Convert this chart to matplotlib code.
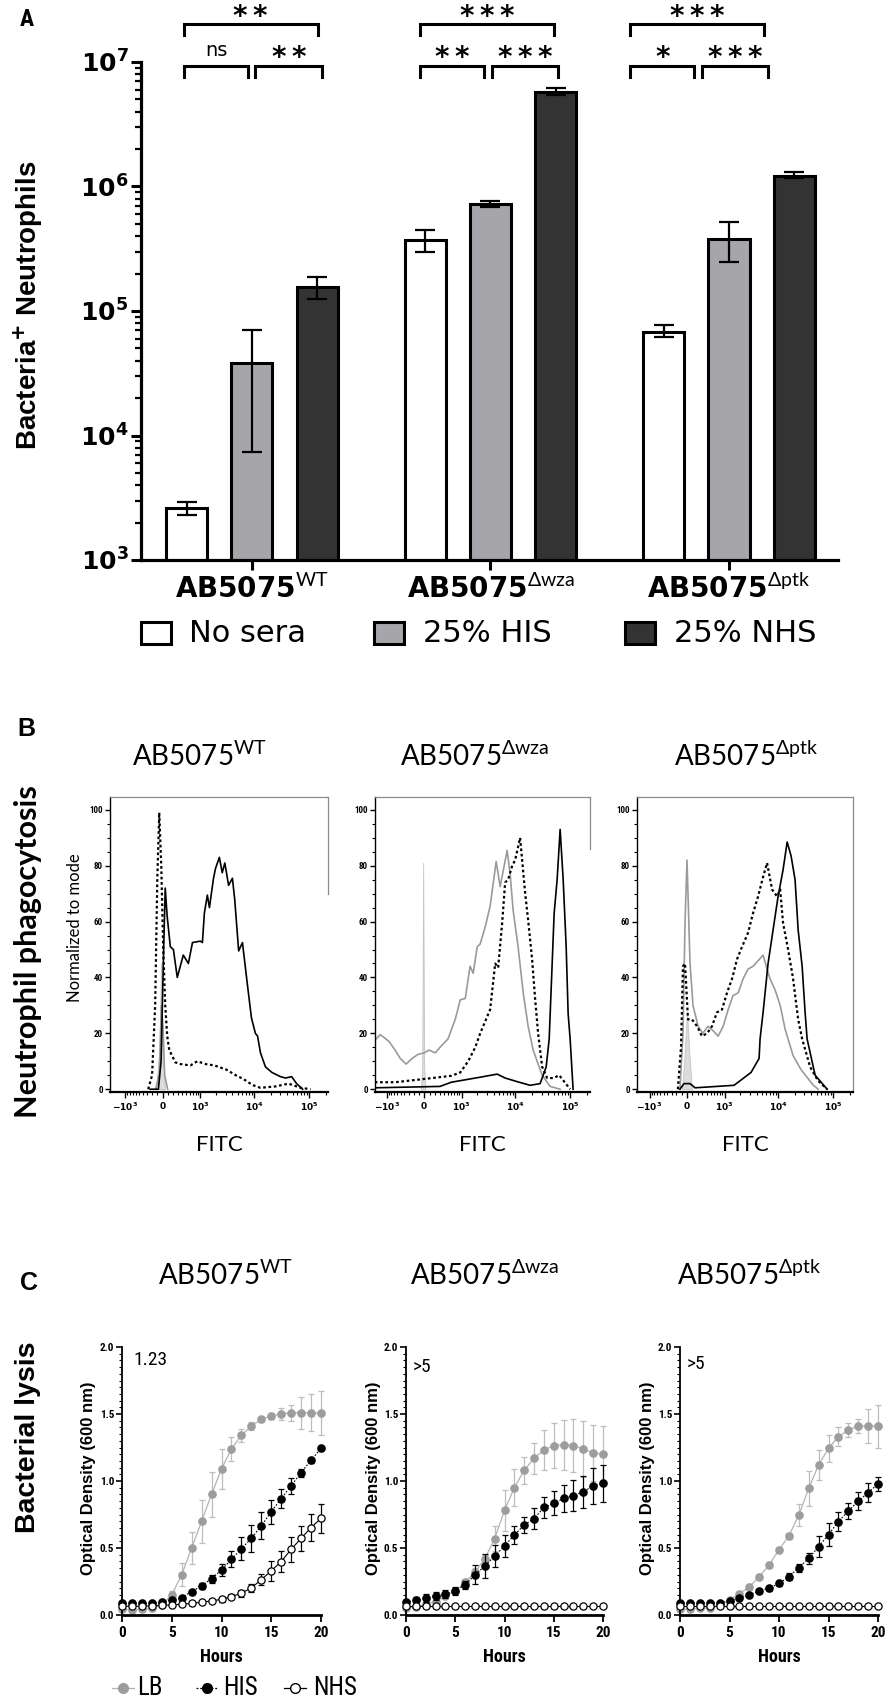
import numpy as np
import matplotlib
matplotlib.use("Agg")
import matplotlib.pyplot as plt
from matplotlib import font_manager as fm
from matplotlib.patches import Rectangle
from matplotlib.lines import Line2D
from matplotlib.ticker import MultipleLocator, LogLocator, NullFormatter, FixedLocator

_names = {f.name for f in fm.fontManager.ttflist}
def pick(*cands):
    for c in cands:
        if c in _names:
            return c
    return "DejaVu Sans"

NARROW = pick("Liberation Sans Narrow", "DejaVu Sans Condensed", "Roboto Condensed", "Liberation Sans")
ARIAL = pick("Liberation Sans", "Arimo", "DejaVu Sans")
CALI = pick("Lato", "Roboto", "Open Sans", "Noto Sans")

plt.rcParams.update({
    "font.family": [ARIAL, "DejaVu Sans"],
    "mathtext.fontset": "custom",
    "mathtext.rm": CALI,
    "mathtext.it": CALI + ":italic",
    "mathtext.bf": "DejaVu Sans:bold",
    "mathtext.sf": CALI,
    "mathtext.fallback": "stixsans",
    "axes.unicode_minus": False,
})

# ---------------- data ----------------
strains = ["WT", "Δwza", "Δptk"]
conditions = ["No sera", "25% HIS", "25% NHS"]

# Panel A: bacteria+ neutrophils (mean, lower, upper of error bar)
no_sera_mean = [2.6e3, 3.7e5, 6.8e4]
no_sera_low = [2.3e3, 3.0e5, 6.2e4]
no_sera_high = [2.9e3, 4.5e5, 7.7e4]
his_mean = [3.8e4, 7.2e5, 3.8e5]
his_low = [7.4e3, 6.9e5, 2.46e5]
his_high = [7.0e4, 7.6e5, 5.2e5]
nhs_mean = [1.56e5, 5.74e6, 1.21e6]
nhs_low = [1.26e5, 5.4e6, 1.17e6]
nhs_high = [1.86e5, 6.2e6, 1.31e6]
sig_pairs = [(0, 1), (1, 2), (0, 2)]
sig_labels = [["ns", "**", "**"], ["**", "***", "***"], ["*", "***", "***"]]

# Panel B: FITC histograms (normalized to mode)
wt_ctrl_x = [-120, -60, -30, 0, 40]
wt_ctrl_y = [0, 15, 45, 15, 0]
wt_nosera_x = [-130, -60, -25, 5, 35, 90]
wt_nosera_y = [0, 6, 30, 22, 5, 0]
wt_his_x = [-280, -200, -140, -100, -64, -27, 9, 45, 82, 120, 240, 350, 620, 870, 1270,
            1870, 3100, 4600, 6400, 9300, 13000, 24500, 42000, 70000, 106000]
wt_his_y = [0, 5, 30, 75, 99, 80, 50, 30, 19, 14, 9.6, 9, 8.5, 10, 9,
            8.5, 7, 5, 3.6, 1.5, 0.5, 1, 2, 0.5, 0]
wt_nhs_x = [-240, -80, -30, 10, 45, 80, 140, 200, 280, 420, 560, 690, 1000, 1100, 1200,
            1370, 1500, 1790, 1950, 2300, 2600, 2900, 3400, 4000, 4400, 5200, 6100, 7500,
            8900, 10500, 11500, 13000, 16000, 21000, 30000, 37000, 48000, 59000, 76000]
wt_nhs_y = [0, 0, 10, 45, 72, 62, 51, 50, 40, 48, 45, 52.5, 53, 52.5, 63,
            69.5, 65, 75.5, 79, 83, 77.5, 81, 73, 75.5, 68, 49.5, 52.5, 37.5,
            25.5, 20, 19, 13, 8, 6, 4.5, 4, 4.5, 2, 0]

wza_ctrl_x = [-60, -35, -18, 0, 25]
wza_ctrl_y = [0, 8, 81, 8, 0]
wza_nosera_x = [-1600, -1340, -1120, -890, -670, -510, -360, -230, -110, 0, 90, 210, 310,
                510, 570, 740, 940, 1180, 1460, 1670, 1990, 2260, 2790, 3450, 4450, 5270,
                7070, 8020, 9100, 11200, 13900, 17100, 21100, 30800, 43100, 65600]
wza_nosera_y = [18, 19.5, 18.5, 17, 14, 11, 9, 11, 12.5, 13, 14, 13, 15,
                18, 20, 25, 32, 32.5, 44, 41.5, 51, 52, 58, 65.5, 81.5, 72.5,
                85.5, 77, 64, 51, 34.5, 22.5, 14, 5, 1, 0]
wza_his_x = [-1700, -670, -70, 610, 940, 1340, 1830, 2260, 3450, 4270, 4840, 5730, 6500,
             7370, 8740, 9900, 12200, 15100, 17100, 20200, 23000, 26000, 30800, 38000,
             50000, 62900, 100000]
wza_his_y = [2.5, 2.5, 3.5, 4.8, 6, 10, 15, 20, 28.5, 45, 43.5, 59.5, 74,
             75, 80, 82, 90, 70, 60.5, 46.5, 32, 20, 8, 4, 4, 5, 0]
wza_nhs_x = [-1700, 310, 610, 2260, 4640, 6500, 11700, 18600, 28300, 36500, 41400, 51000,
             57800, 65600, 74500, 84500, 91800, 99800, 113000]
wza_nhs_y = [0.5, 1, 2.5, 4.3, 5.4, 4, 2.5, 1.4, 2, 8, 18, 63, 75, 93, 75, 51, 27, 18, 0]

ptk_ctrl_x = [-90, -45, 0, 45, 90]
ptk_ctrl_y = [0, 12, 28, 12, 0]
ptk_nosera_x = [-130, -73, -36, 0, 55, 110, 210, 310, 430, 570, 740, 940, 1180, 1460, 1830,
                2260, 2790, 3450, 4270, 5270, 6230, 7070, 8740, 10800, 13300, 18600, 26000,
                43100, 53200]
ptk_nosera_y = [0, 20, 60, 82, 45, 30, 22.5, 20, 22.5, 21, 19, 22.5, 28.5, 33.5, 34.5,
                39.5, 43, 44, 46, 48, 43, 39.5, 35.5, 30, 21.5, 12, 7, 1.5, 0]
ptk_his_x = [-170, -110, -73, -36, 18, 90, 190, 290, 410, 540, 700, 890, 1120, 1400, 1740,
             2160, 2790, 3450, 4270, 5270, 6230, 7690, 9490, 10800, 12200, 15100, 18600,
             23000, 27200, 38000, 53200, 77600]
ptk_his_y = [0, 15, 44, 45, 25, 25, 22.5, 19, 20, 22.5, 27.5, 28.5, 34.5, 39.5, 46.5,
             51, 56, 63, 69, 76, 81, 71.5, 69, 71.5, 59.5, 50, 39.5, 25, 18, 8, 3, 0]
ptk_nhs_x = [-130, -55, 55, 150, 1530, 3170, 4450, 4640, 5270, 6500, 8020, 9900, 12200,
             14500, 17100, 20200, 23000, 27200, 30800, 33500, 46900, 77600]
ptk_nhs_y = [0, 2, 2, 0.5, 1.4, 6, 11, 18, 27.5, 45, 57, 69, 78.5, 88.5, 83.5, 75, 57,
             44, 27.5, 18, 5, 0]

fitc_ticks = [-1000, 0, 1000, 10000, 100000]
fitc_ticklabels = [r"$\mathbf{-10^{3}}$", r"$\mathbf{0}$", r"$\mathbf{10^{3}}$",
                   r"$\mathbf{10^{4}}$", r"$\mathbf{10^{5}}$"]

# Panel C: growth curves (OD600)
hours = [0, 1, 2, 3, 4, 5, 6, 7, 8, 9, 10, 11, 12, 13, 14, 15, 16, 17, 18, 19, 20]
wt_lb = [0.042, 0.04, 0.042, 0.05, 0.075, 0.15, 0.30, 0.50, 0.70, 0.90, 1.09, 1.24, 1.34,
         1.41, 1.46, 1.485, 1.50, 1.51, 1.51, 1.51, 1.505]
wt_lb_err = [0.01, 0.01, 0.01, 0.01, 0.015, 0.03, 0.085, 0.12, 0.16, 0.17, 0.15, 0.09, 0.05,
             0.03, 0.02, 0.02, 0.045, 0.06, 0.12, 0.14, 0.165]
wt_his = [0.087, 0.087, 0.087, 0.087, 0.095, 0.11, 0.13, 0.175, 0.217, 0.272, 0.336, 0.415,
          0.495, 0.572, 0.665, 0.771, 0.868, 0.964, 1.063, 1.155, 1.243]
wt_his_err = [0.01, 0.01, 0.01, 0.01, 0.01, 0.015, 0.015, 0.015, 0.02, 0.03, 0.047, 0.06,
              0.087, 0.1, 0.1, 0.09, 0.07, 0.06, 0.03, 0.02, 0.01]
wt_nhs = [0.065, 0.065, 0.065, 0.068, 0.072, 0.075, 0.08, 0.087, 0.095, 0.105, 0.117, 0.137,
          0.162, 0.203, 0.263, 0.33, 0.399, 0.49, 0.572, 0.652, 0.721]
wt_nhs_err = [0.005, 0.005, 0.005, 0.005, 0.005, 0.01, 0.01, 0.01, 0.01, 0.015, 0.02, 0.02,
              0.025, 0.03, 0.04, 0.075, 0.08, 0.095, 0.095, 0.1, 0.11]

wza_lb = [0.05, 0.057, 0.08, 0.10, 0.14, 0.18, 0.245, 0.32, 0.42, 0.57, 0.78, 0.95, 1.08,
          1.17, 1.23, 1.264, 1.27, 1.264, 1.24, 1.21, 1.2]
wza_lb_err = [0.01, 0.01, 0.01, 0.01, 0.015, 0.02, 0.02, 0.03, 0.03, 0.095, 0.15, 0.14, 0.1,
              0.115, 0.15, 0.17, 0.187, 0.2, 0.21, 0.21, 0.21]
wza_his = [0.095, 0.11, 0.125, 0.14, 0.155, 0.18, 0.225, 0.3, 0.366, 0.44, 0.515, 0.597,
           0.672, 0.72, 0.803, 0.833, 0.87, 0.89, 0.92, 0.963, 0.983]
wza_his_err = [0.02, 0.025, 0.03, 0.03, 0.03, 0.03, 0.03, 0.07, 0.09, 0.08, 0.08, 0.07, 0.06,
               0.08, 0.08, 0.09, 0.1, 0.115, 0.12, 0.135, 0.14]
wza_nhs = [0.07, 0.07, 0.07, 0.07, 0.07, 0.07, 0.07, 0.07, 0.07, 0.07, 0.07, 0.07, 0.07,
           0.07, 0.07, 0.07, 0.07, 0.07, 0.07, 0.07, 0.07]
wza_nhs_err = [0.005] * 21

ptk_lb = [0.042, 0.045, 0.05, 0.05, 0.075, 0.11, 0.16, 0.21, 0.286, 0.373, 0.487, 0.59,
          0.746, 0.945, 1.12, 1.244, 1.33, 1.38, 1.41, 1.41, 1.41]
ptk_lb_err = [0.01, 0.01, 0.01, 0.01, 0.01, 0.015, 0.015, 0.02, 0.02, 0.02, 0.02, 0.02, 0.08,
              0.13, 0.115, 0.1, 0.07, 0.05, 0.05, 0.125, 0.16]
ptk_his = [0.087, 0.087, 0.087, 0.09, 0.09, 0.105, 0.125, 0.15, 0.18, 0.2, 0.236, 0.286,
           0.353, 0.423, 0.51, 0.6, 0.697, 0.776, 0.85, 0.913, 0.978]
ptk_his_err = [0.01, 0.01, 0.01, 0.01, 0.01, 0.01, 0.01, 0.015, 0.015, 0.02, 0.02, 0.025,
               0.03, 0.04, 0.077, 0.087, 0.07, 0.06, 0.07, 0.07, 0.055]
ptk_nhs = [0.07, 0.07, 0.07, 0.07, 0.07, 0.07, 0.07, 0.07, 0.07, 0.07, 0.07, 0.07, 0.07,
           0.07, 0.07, 0.07, 0.07, 0.07, 0.07, 0.07, 0.07]
ptk_nhs_err = [0.005] * 21
lysis_notes = ["1.23", ">5", ">5"]
series_names = ["LB", "HIS", "NHS"]

# ---------------- figure ----------------
W, H = 885, 1700
fig = plt.figure(figsize=(W / 100, H / 100), dpi=100)

def rect(l, t, r, b):
    return [l / W, 1 - b / H, (r - l) / W, (b - t) / H]

def fx(px):
    return px / W

def fy(py):
    return 1 - py / H

# ======== Panel A ========
A_TOP, A_BOT = 62, 560
axA = fig.add_axes(rect(141, A_TOP, 838, A_BOT))
axA.set_yscale("log")
gx = np.arange(len(strains))
offs = [-0.273, 0.0, 0.273]
bw = 0.172
bar_colors = ["white", "#a5a5aa", "#333333"]
means = [no_sera_mean, his_mean, nhs_mean]
lows = [no_sera_low, his_low, nhs_low]
highs = [no_sera_high, his_high, nhs_high]
for i in range(3):
    xs = gx + offs[i]
    m = np.array(means[i])
    axA.bar(xs, m, width=bw, color=bar_colors[i], edgecolor="black", linewidth=2.2, zorder=2)
    axA.errorbar(xs, m, yerr=[m - np.array(lows[i]), np.array(highs[i]) - m], fmt="none",
                 ecolor="black", elinewidth=1.6, capsize=7.5, capthick=1.6, zorder=3)
axA.set_ylim(1e3, 1e7)
axA.set_xlim(-0.465, 2.457)
for s in ["top", "right"]:
    axA.spines[s].set_visible(False)
for s in ["left", "bottom"]:
    axA.spines[s].set_linewidth(2.3)
axA.set_yticks([1e3, 1e4, 1e5, 1e6, 1e7],
               [r"$\mathbf{10^{3}}$", r"$\mathbf{10^{4}}$", r"$\mathbf{10^{5}}$",
                r"$\mathbf{10^{6}}$", r"$\mathbf{10^{7}}$"])
axA.yaxis.set_minor_locator(LogLocator(base=10, subs=np.arange(2, 10)))
axA.yaxis.set_minor_formatter(NullFormatter())
axA.tick_params(axis="y", which="major", length=7, width=2.2, labelsize=18, pad=2)
axA.tick_params(axis="y", which="minor", length=4, width=1.6)
axA.set_xticks(gx, [r"$\mathbf{AB5075}^{\mathrm{" + s + "}}$" for s in strains])
axA.tick_params(axis="x", length=7, width=2.2, labelsize=20, pad=4)
axA.set_ylabel("Bacteria$^{\\mathbf{+}}$ Neutrophils", fontsize=20, fontweight="bold",
               family=[ARIAL, "DejaVu Sans"])
axA.yaxis.set_label_coords(-(141 - 28) / 697, (A_BOT - 305) / (A_BOT - A_TOP))
axA.yaxis.label.set_va("center")

def afrac(py):
    return (A_BOT - py) / (A_BOT - A_TOP)

# significance brackets
tr = axA.get_xaxis_transform()
bspan = {(0, 1): (-0.285, -0.015), (1, 2): (0.015, 0.295), (0, 2): (-0.285, 0.275)}
gshift = [0.0, -0.01, -0.13]
for g in range(3):
    for k, pair in enumerate(sig_pairs):
        a, b = bspan[pair]
        x0, x1 = g + a + gshift[g], g + b + gshift[g]
        upper = pair == (0, 2)
        if upper:
            ytop, yleg, ybase_star, ybase_ns = afrac(24), afrac(35), afrac(25), afrac(15)
        else:
            ytop, yleg, ybase_star, ybase_ns = afrac(66), afrac(77), afrac(66), afrac(56)
        axA.plot([x0, x0, x1, x1], [yleg, ytop, ytop, yleg], color="black", lw=2.2,
                 transform=tr, clip_on=False, solid_joinstyle="miter")
        lab = sig_labels[g][k]
        if lab == "ns":
            axA.text((x0 + x1) / 2, ybase_ns, lab, transform=tr, ha="center", va="baseline",
                     fontsize=14, family="DejaVu Sans")
        else:
            axA.text((x0 + x1) / 2, ybase_star, "\u2009".join(lab), transform=tr,
                     ha="center", va="baseline", fontsize=20, fontweight="bold",
                     family="DejaVu Sans")

# legend for panel A
sq_x = [141, 374, 625]
tx_x = [189, 423, 674]
for i in range(3):
    fig.add_artist(Rectangle((fx(sq_x[i]), fy(644)), 30 / W, 22 / H, transform=fig.transFigure,
                             facecolor=bar_colors[i], edgecolor="black", linewidth=2.2))
    fig.text(fx(tx_x[i]), fy(634), conditions[i], fontsize=22, family="DejaVu Sans",
             va="center", ha="left")

fig.text(fx(27), fy(20), "A", fontsize=17, fontweight="bold", family=NARROW,
         ha="center", va="center")

# ======== Panel B ========
def fwd(x):
    return np.arcsinh(np.asarray(x, dtype=float) / 433.0)

def inv(u):
    return 433.0 * np.sinh(np.asarray(u, dtype=float))

b_rects = [(110, 797, 328, 1092), (375, 797, 590, 1092), (637, 797, 853, 1092)]
b_xlims = [(-1950, 2.2e5), (-1680, 2.3e5), (-1740, 2.3e5)]
b_right_spine_from = [70, 86, -1]
hist_sets = [
    (wt_ctrl_x, wt_ctrl_y, wt_nosera_x, wt_nosera_y, wt_his_x, wt_his_y, wt_nhs_x, wt_nhs_y),
    (wza_ctrl_x, wza_ctrl_y, wza_nosera_x, wza_nosera_y, wza_his_x, wza_his_y, wza_nhs_x, wza_nhs_y),
    (ptk_ctrl_x, ptk_ctrl_y, ptk_nosera_x, ptk_nosera_y, ptk_his_x, ptk_his_y, ptk_nhs_x, ptk_nhs_y),
]
minor_fitc = ([-v for v in range(100, 1000, 100)] + list(range(100, 1000, 100)) +
              list(range(2000, 10000, 1000)) + list(range(20000, 100000, 10000)) + [200000])
b_title_x = [199, 475, 746]
for k in range(3):
    ax = fig.add_axes(rect(*b_rects[k]))
    ax.set_xscale("function", functions=(fwd, inv))
    cx, cy, nx, ny, hx, hy, kx, ky = hist_sets[k]
    ax.fill_between(cx, cy, 0, color="#dcdcdc", edgecolor="#c4c4c4", lw=0.6, zorder=1)
    ax.plot(nx, ny, color="#9a9a9a", lw=1.2, zorder=2)
    ax.plot(hx, hy, color="black", lw=1.6, ls=(0, (1.2, 1.2)), zorder=3)
    ax.plot(kx, ky, color="black", lw=1.2, zorder=4)
    ax.set_xlim(*b_xlims[k])
    ax.set_ylim(-1, 104.6)
    ax.set_xticks(fitc_ticks, fitc_ticklabels)
    ax.xaxis.set_minor_locator(FixedLocator(minor_fitc))
    ax.xaxis.set_minor_formatter(NullFormatter())
    ax.set_yticks([0, 20, 40, 60, 80, 100], ["0", "20", "40", "60", "80", "100"],
                  fontsize=6.5, fontweight="bold", family=NARROW)
    ax.yaxis.set_minor_locator(MultipleLocator(5))
    ax.tick_params(axis="x", which="major", length=4, width=1.0, labelsize=6.5, pad=2)
    ax.tick_params(axis="x", which="minor", length=2.5, width=0.8)
    ax.tick_params(axis="y", which="major", length=3.5, width=1.0, pad=1.5)
    ax.tick_params(axis="y", which="minor", length=2, width=0.8)
    for s in ["top", "right"]:
        ax.spines[s].set_color("#8a8a8a")
        ax.spines[s].set_linewidth(0.9)
    if b_right_spine_from[k] >= 0:
        ax.spines["right"].set_bounds(b_right_spine_from[k], 104.6)
    ax.spines["left"].set_linewidth(1.0)
    ax.spines["bottom"].set_linewidth(1.6)
    ax.set_xlabel("FITC", fontsize=16, family=CALI)
    ax.xaxis.set_label_coords(0.5, -(1145 - 1092) / 295)
    ax.xaxis.label.set_va("center")
    if k == 0:
        ax.set_ylabel("Normalized to mode", fontsize=12, family=CALI)
        ax.yaxis.set_label_coords(-(110 - 75) / 218, (1092 - 928) / 295)
        ax.yaxis.label.set_va("center")
    fig.text(fx(b_title_x[k]), fy(757), r"$\mathrm{AB5075}^{\mathrm{" + strains[k] + "}}$",
             fontsize=20, ha="center", va="center")

fig.text(fx(26), fy(729), "B", fontsize=18, fontweight="bold", family=ARIAL,
         ha="center", va="center")
fig.text(fx(28), fy(952), "Neutrophil phagocytosis", fontsize=22, fontweight="bold",
         family=CALI, rotation=90, ha="center", va="center")

# ======== Panel C ========
c_rects = [(122, 1347, 321, 1615), (406, 1347, 603, 1615), (680, 1347, 878, 1615)]
c_title_x = [225, 485, 749]
c_note_pos = [(1.1, 1.90), (0.7, 1.85), (0.7, 1.87)]
c_sets = [
    (wt_lb, wt_lb_err, wt_his, wt_his_err, wt_nhs, wt_nhs_err),
    (wza_lb, wza_lb_err, wza_his, wza_his_err, wza_nhs, wza_nhs_err),
    (ptk_lb, ptk_lb_err, ptk_his, ptk_his_err, ptk_nhs, ptk_nhs_err),
]
lb_color, lb_ecolor, lb_lcolor = "#9d9d9d", "#bdbdbd", "#b3b3b3"
for k in range(3):
    ax = fig.add_axes(rect(*c_rects[k]))
    lb, lbe, his, hise, nhs, nhse = c_sets[k]
    c1 = ax.errorbar(hours, lb, yerr=lbe, fmt="o", ms=5.2, color=lb_color, mec=lb_color,
                     ecolor=lb_ecolor, elinewidth=0.9, capsize=2.5, capthick=0.9, zorder=2)
    ax.plot(hours, lb, color=lb_lcolor, lw=0.9, zorder=1.5)
    c2 = ax.errorbar(hours, his, yerr=hise, fmt="o", ms=5.2, color="black", mec="black",
                     ecolor="black", elinewidth=0.9, capsize=2.5, capthick=0.9, zorder=3)
    ax.plot(hours, his, color="black", lw=0.8, ls=(0, (1.5, 1.5)), zorder=2.5)
    c3 = ax.errorbar(hours, nhs, yerr=nhse, fmt="o", ms=5.2, mfc="white", mec="black",
                     mew=0.9, ecolor="black", elinewidth=0.9, capsize=2.5, capthick=0.9,
                     zorder=4)
    ax.plot(hours, nhs, color="black", lw=0.8, zorder=3.5)
    for cont in (c1, c2, c3):
        for art in cont.get_children():
            art.set_clip_on(False)
    ax.set_xlim(0, 20)
    ax.set_ylim(0, 2.0)
    for s in ["top", "right"]:
        ax.spines[s].set_visible(False)
    ax.spines["left"].set_linewidth(1.3)
    ax.spines["bottom"].set_linewidth(2.0)
    ax.set_xticks([0, 5, 10, 15, 20], ["0", "5", "10", "15", "20"], fontsize=11,
                  fontweight="bold", family=NARROW)
    ax.set_yticks([0.0, 0.5, 1.0, 1.5, 2.0], ["0.0", "0.5", "1.0", "1.5", "2.0"], fontsize=8,
                  fontweight="bold", family=NARROW)
    ax.yaxis.set_minor_locator(MultipleLocator(0.05))
    ax.tick_params(axis="x", which="major", length=5, width=1.3, pad=3)
    ax.tick_params(axis="y", which="major", length=4, width=1.2, pad=1.5)
    ax.tick_params(axis="y", which="minor", length=2, width=0.8)
    ax.set_xlabel("Hours", fontsize=13, fontweight="bold", family=NARROW)
    ax.xaxis.set_label_coords(0.5, -(1657 - 1615) / 268)
    ax.xaxis.label.set_va("center")
    ax.set_ylabel("Optical Density (600 nm)", fontsize=12, fontweight="bold", family=ARIAL)
    ax.yaxis.set_label_coords(-33 / 199, (1615 - 1478) / 268)
    ax.yaxis.label.set_va("center")
    ax.text(c_note_pos[k][0], c_note_pos[k][1], lysis_notes[k], fontsize=14, family=NARROW,
            ha="left", va="center")
    fig.text(fx(c_title_x[k]), fy(1276), r"$\mathrm{AB5075}^{\mathrm{" + strains[k] + "}}$",
             fontsize=20, ha="center", va="center")

fig.text(fx(29), fy(1283), "C", fontsize=18, fontweight="bold", family=ARIAL,
         ha="center", va="center")
fig.text(fx(28), fy(1437), "Bacterial lysis", fontsize=20.5, fontweight="bold",
         family=ARIAL, rotation=90, ha="center", va="center")

# legend for panel C
leg_cx = [123, 207, 295]
leg_tx = [137, 223, 313]
leg_styles = [
    dict(color=lb_lcolor, ls="-", marker="o", mfc=lb_color, mec=lb_color),
    dict(color="black", ls=(0, (1.5, 1.5)), marker="o", mfc="black", mec="black"),
    dict(color="black", ls="-", marker="o", mfc="white", mec="black"),
]
for i in range(3):
    st = leg_styles[i]
    fig.add_artist(Line2D([fx(leg_cx[i] - 11), fx(leg_cx[i] + 11)], [fy(1688), fy(1688)],
                          transform=fig.transFigure, color=st["color"], ls=st["ls"], lw=0.9))
    fig.add_artist(Line2D([fx(leg_cx[i])], [fy(1688)], transform=fig.transFigure,
                          ls="none", marker="o", ms=7, mfc=st["mfc"], mec=st["mec"], mew=1.0))
    fig.text(fx(leg_tx[i]), fy(1688), series_names[i], fontsize=18, family=NARROW,
             ha="left", va="center")

fig.savefig("out.png", dpi=100)
